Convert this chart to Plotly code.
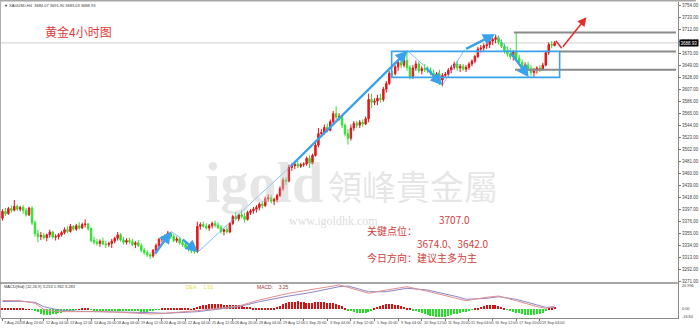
import plotly.graph_objects as go

# ---------------- data ----------------
opens = [3382,3394,3390,3399,3396,3403,3398,3401,3396,3388,3400,3374,3355,3350,3352,3348,3353,3358,3349,3350,
         3353,3357,3362,3359,3368,3363,3369,3365,3371,3372,3364,3343,3340,3338,3342,3337,3336,3338,3342,3347,
         3353,3344,3340,3343,3341,3336,3339,3334,3326,3322,3318,3316,3326,3334,3345,3347,3350,3356,3350,3343,
         3346,3339,3336,3331,3329,3325,3324,3368,3371,3368,3365,3369,3373,3370,3366,3359,3362,3358,3373,3385,
         3381,3388,3385,3380,3392,3395,3398,3401,3407,3404,3416,3418,3412,3415,3422,3434,3449,3447,3471,3474,
         3477,3473,3476,3477,3487,3478,3492,3510,3530,3532,3541,3536,3551,3565,3559,3560,3545,3530,3522,3540,
         3548,3545,3550,3547,3556,3590,3585,3587,3592,3590,3608,3618,3636,3635,3647,3655,3650,3658,3646,3630,
         3645,3652,3640,3644,3642,3640,3636,3630,3634,3624,3632,3634,3641,3646,3652,3645,3648,3643,3646,3652,
         3657,3665,3678,3680,3684,3686,3692,3695,3698,3690,3683,3675,3670,3665,3673,3662,3655,3645,3650,3644,
         3637,3641,3645,3643,3650,3672,3686,3684]
highs = [3398,3400,3402,3404,3414,3406,3404,3405,3400,3402,3403,3378,3362,3358,3356,3355,3362,3360,3354,3356,
         3360,3366,3368,3372,3370,3372,3375,3374,3380,3374,3366,3350,3346,3345,3348,3342,3341,3346,3350,3358,
         3356,3349,3347,3348,3346,3342,3344,3338,3330,3326,3322,3328,3338,3348,3351,3354,3360,3358,3354,3350,
         3349,3344,3340,3336,3334,3330,3376,3375,3376,3373,3372,3376,3378,3375,3370,3364,3368,3375,3388,3393,
         3390,3396,3392,3395,3398,3402,3405,3410,3412,3420,3424,3423,3418,3425,3438,3453,3454,3476,3478,3481,
         3483,3479,3480,3490,3492,3495,3515,3540,3538,3546,3548,3555,3570,3578,3566,3563,3548,3538,3546,3552,
         3552,3554,3555,3560,3600,3600,3592,3598,3600,3612,3622,3640,3640,3650,3659,3662,3662,3674,3650,3650,
         3658,3656,3648,3652,3648,3646,3642,3638,3642,3636,3638,3645,3650,3656,3658,3652,3652,3650,3655,3660,
         3668,3682,3685,3688,3690,3695,3698,3703,3702,3695,3688,3682,3680,3676,3707,3668,3660,3655,3656,3650,
         3645,3648,3650,3654,3675,3690,3692,3692]
lows = [3378,3386,3388,3392,3394,3395,3394,3390,3385,3386,3370,3350,3340,3344,3345,3342,3348,3346,3343,3345,
        3350,3354,3356,3357,3360,3360,3362,3363,3366,3360,3340,3336,3334,3332,3335,3330,3332,3330,3338,3343,
        3341,3336,3336,3338,3333,3330,3332,3322,3318,3314,3311,3313,3322,3331,3340,3342,3346,3346,3340,3339,
        3336,3332,3328,3324,3321,3320,3321,3362,3366,3362,3360,3364,3366,3363,3355,3352,3356,3356,3370,3378,
        3377,3382,3375,3378,3388,3390,3392,3396,3399,3402,3411,3408,3405,3410,3419,3430,3440,3445,3465,3468,
        3470,3470,3472,3474,3470,3476,3490,3506,3526,3528,3532,3534,3545,3555,3553,3540,3525,3511,3518,3535,
        3540,3540,3542,3545,3550,3575,3580,3580,3584,3586,3602,3615,3628,3632,3640,3645,3646,3640,3625,3626,
        3640,3636,3634,3638,3636,3632,3626,3620,3615,3613,3628,3630,3636,3642,3640,3638,3640,3638,3642,3648,
        3653,3662,3672,3675,3678,3680,3685,3688,3686,3680,3670,3665,3660,3658,3660,3650,3640,3638,3640,3630,
        3628,3635,3638,3640,3648,3668,3680,3683]
closes = [3394,3390,3399,3396,3403,3398,3401,3396,3388,3400,3374,3355,3350,3352,3348,3353,3358,3349,3350,3353,
          3357,3362,3359,3368,3363,3369,3365,3371,3372,3364,3343,3340,3338,3342,3337,3336,3338,3342,3347,3353,
          3344,3340,3343,3341,3336,3339,3334,3326,3322,3318,3316,3326,3334,3345,3347,3350,3356,3350,3343,3346,
          3339,3336,3331,3329,3325,3324,3368,3371,3368,3365,3369,3373,3370,3366,3359,3362,3358,3373,3385,3381,
          3388,3385,3380,3392,3395,3398,3401,3407,3404,3416,3418,3412,3415,3422,3434,3449,3447,3471,3474,3477,
          3473,3476,3477,3487,3478,3492,3510,3530,3532,3541,3536,3551,3565,3559,3560,3545,3530,3522,3540,3548,
          3545,3550,3547,3556,3590,3585,3587,3592,3590,3608,3618,3636,3635,3647,3655,3650,3658,3646,3630,3645,
          3652,3640,3644,3642,3640,3636,3630,3634,3624,3632,3634,3641,3646,3652,3645,3648,3643,3646,3652,3657,
          3665,3678,3680,3684,3686,3692,3695,3698,3690,3683,3675,3670,3665,3673,3662,3655,3645,3650,3644,3637,
          3641,3645,3643,3650,3672,3686,3685,3689]

macd_hist = [0.6,0.8,0.7,0.9,1.0,0.8,0.6,0.4,0.3,0.2,-0.5,-1.5,-3,-4.5,-5.5,-6,-5.8,-5,-4.5,-4,
             -3.2,-2.5,-1.8,-1.2,-0.8,-0.4,0.3,0.5,0.6,0.4,-0.3,-0.8,-1.2,-1.5,-1.8,-2,-2,-1.8,-1.5,-1.2,
             -1.3,-1.5,-1.4,-1.5,-1.6,-1.8,-2,-2.2,-2.4,-2.2,-1.8,-1.2,-0.6,-0.1,0.4,0.8,1.2,1.5,1.3,1.0,
             0.8,0.6,0.5,0.4,0.3,0.4,2.5,3.5,4.2,4.8,5.2,5.5,5.8,5.6,5.0,4.5,4.2,4.0,4.5,4.3,
             4.0,3.5,2.8,2.3,2.0,1.5,1.2,1.0,0.9,1.2,1.5,1.4,1.6,2.5,3.5,5,6,7,7.5,7.8,
             8.2,7.8,7.2,6.8,6.5,6.8,7.2,7.6,7.4,7.0,6.6,6.2,6.0,5.6,4.5,3.0,1.2,-0.8,-2,-3,
             -3.5,-3.8,-4,-3.5,-2.5,-1.0,0.8,2.2,3.5,4.5,5.2,5.6,5.0,4.6,4.0,3.4,2.5,1.5,0.5,-0.8,
             -2,-3,-4,-4.8,-5.5,-6.2,-7,-7.6,-8,-7.8,-7.2,-6.5,-5.8,-5,-4.2,-3.5,-3,-2.4,-1.5,-0.6,
             0.4,1.5,2.8,3.6,4.2,4.6,4.5,4.0,3.0,2.0,0.8,-0.5,-1.5,-2.5,-3.2,-4,-4.6,-5.2,-5.6,-5.8,
             -5.5,-5,-4.2,-3.3,-1.8,0.5,1.5,2.6]
line_idx = [0,6,11,14,18,21,26,33,40,50,55,66,80,87,97,104,114,117,124,130,137,144,154,157,164,168,174,181,184,187]
dif_vals = [8.8,8.6,6,0,-2.4,-2.4,-1.7,-2.4,-3,-4.7,-4,-1.3,3.3,9.3,16,19.3,24.3,22,16,19.3,22.6,18,10.7,8.6,12,13.3,8.6,2.6,1,3.3]
dea_vals = [7.8,8.0,7,2.6,0,-1.3,-2,-2.2,-2.5,-3.3,-4,-2.4,2.6,7.6,13.3,16.6,22.6,23.3,17.6,17.6,21,19.3,12.6,10,11,12.6,10,4.3,2,1.9]

x_label_idx = [0] + [6 + 8 * k for k in range(23)]
x_label_text = ["7 Aug 2025", "8 Aug 20:00", "12 Aug 04:00", "13 Aug 12:00", "14 Aug 20:00", "18 Aug 04:00",
                "19 Aug 12:00", "20 Aug 20:00", "22 Aug 04:00", "25 Aug 12:00", "26 Aug 20:00", "28 Aug 04:00",
                "29 Aug 12:00", "1 Sep 20:00", "3 Sep 04:00", "4 Sep 12:00", "5 Sep 20:00", "9 Sep 04:00",
                "10 Sep 12:00", "11 Sep 20:00", "15 Sep 04:00", "16 Sep 12:00", "17 Sep 20:00", "19 Sep 04:00"]
y_tick_vals = [3271 + 21 * k for k in range(24)]
y_tick_text = ["%.2f" % v for v in y_tick_vals]
macd_tick_text = ["20.996", "0.00", "-16.84"]
last_price = 3688.93
key_levels = [3707.0, 3674.0, 3642.0]

# drawn analysis objects (bar index, price)
blue_thick = [((51.3, 3317), (57.1, 3359)), ((60.5, 3347), (66.2, 3323)), ((97, 3470), (137.2, 3675)),
              ((143, 3648), (149, 3615)), ((156.5, 3677), (166.8, 3704)), ((171.8, 3674), (178.3, 3629))]
blue_thin = [((57.1, 3359), (60.5, 3347)), ((66.2, 3323), (97, 3470)), ((137.2, 3675), (143, 3648)),
             ((149, 3615), (156.5, 3677)), ((166.8, 3704), (171.8, 3674))]
box = (131.8, 188.7, 3628.5, 3674)
level_start = [173.2, 188.7, 173.6]
red_seg = ((187.4, 3692.8), (189.4, 3679.5))
red_arrow = ((189.4, 3679.5), (197.8, 3734))

# ---------------- geometry helpers ----------------
W, H = 700, 328
ML, MR, MT, MB = 1, 18, 2, 10
PW, PH = W - ML - MR, H - MT - MB
def px(x):
    return (x - ML) / PW
def py(y):
    return (H - MB - y) / PH
SPLIT = py(283)
XR = [(1 - 2.5) / 2.97, (682 - 2.5) / 2.97]
YR = [3754 - (283 - 5.7) * 1.75, 3754 + (5.7 - 2) * 1.75]
MR_RANGE = [-(318 - 309.3), 309.3 - 283]

idx = list(range(len(closes)))
fig = go.Figure()
fig.add_trace(go.Candlestick(
    x=idx, open=opens, high=highs, low=lows, close=closes, whiskerwidth=0,
    increasing=dict(line=dict(color="#e3161b", width=1), fillcolor="#e3161b"),
    decreasing=dict(line=dict(color="#30e030", width=1), fillcolor="#30e030"),
    xaxis="x", yaxis="y", showlegend=False, hoverinfo="skip"))
fig.add_trace(go.Bar(x=idx, y=macd_hist, width=0.42,
                     marker=dict(color=["#d41414" if v > 0 else "#22e022" for v in macd_hist], line=dict(width=0)),
                     xaxis="x", yaxis="y2", showlegend=False))
fig.add_trace(go.Scatter(x=line_idx, y=dea_vals, mode="lines", line=dict(color="#8c86c8", width=1),
                         xaxis="x", yaxis="y2", showlegend=False))
fig.add_trace(go.Scatter(x=line_idx, y=dif_vals, mode="lines", line=dict(color="#e09090", width=1),
                         xaxis="x", yaxis="y2", showlegend=False))

shapes = []
ann = []
shapes.append(dict(type="line", xref="x", yref="y", x0=XR[0], x1=XR[1], y0=last_price, y1=last_price,
                   line=dict(color="#cfcfcf", width=1), layer="below"))
for lv, xs in zip(key_levels, level_start):
    shapes.append(dict(type="line", xref="x", yref="y", x0=xs, x1=(680 - 2.5) / 2.97, y0=lv, y1=lv,
                       line=dict(color="#8a8a8a", width=2)))
shapes.append(dict(type="rect", xref="x", yref="y", x0=box[0], x1=box[1], y0=box[2], y1=box[3],
                   line=dict(color="#3aa2ec", width=1.6)))
for (a, b) in blue_thin:
    shapes.append(dict(type="line", xref="x", yref="y", x0=a[0], y0=a[1], x1=b[0], y1=b[1],
                       line=dict(color="#5ab4f0", width=0.8)))
for (a, b) in blue_thick:
    ann.append(dict(x=b[0], y=b[1], ax=a[0], ay=a[1], xref="x", yref="y", axref="x", ayref="y",
                    text="", showarrow=True, arrowhead=2, arrowsize=1, arrowwidth=2.4, arrowcolor="#3aa2ec", standoff=0))
shapes.append(dict(type="line", xref="x", yref="y", x0=red_seg[0][0], y0=red_seg[0][1], x1=red_seg[1][0],
                   y1=red_seg[1][1], line=dict(color="#e82a2a", width=1.5)))
ann.append(dict(x=red_arrow[1][0], y=red_arrow[1][1], ax=red_arrow[0][0], ay=red_arrow[0][1], xref="x", yref="y",
                axref="x", ayref="y", text="", showarrow=True, arrowhead=2, arrowsize=1.2, arrowwidth=1.5,
                arrowcolor="#e82a2a", standoff=0))

# frame
shapes.append(dict(type="rect", xref="paper", yref="paper", x0=px(0), x1=px(700), y0=py(0), y1=py(1.6),
                   fillcolor="#a6a6a6", line=dict(width=0)))
shapes.append(dict(type="line", xref="paper", yref="paper", x0=px(0.5), x1=px(0.5), y0=py(318), y1=py(0),
                   line=dict(color="#b0b0b0", width=1)))
shapes.append(dict(type="line", xref="paper", yref="paper", x0=px(0), x1=px(682), y0=SPLIT, y1=SPLIT,
                   line=dict(color="#8a8a8a", width=1.5)))

small = dict(size=3.8, color="#444", family="Liberation Sans Narrow, Liberation Sans")
for i, t in zip(x_label_idx, x_label_text):
    ann.append(dict(x=i, y=py(322.5), xref="x", yref="paper", text=t, showarrow=False, xanchor="left",
                    yanchor="middle", xshift=0 if i == 0 else 0.5, font=small))
for t, yy in zip(macd_tick_text, [286, 309.3, 316.8]):
    ann.append(dict(x=px(684), y=py(yy), xref="paper", yref="paper", text=t, showarrow=False, xanchor="left",
                    yanchor="middle", font=small))
ann.append(dict(x=px(683), y=last_price, xref="paper", yref="y", text="%.2f" % last_price, showarrow=False,
                xanchor="left", yanchor="middle", bgcolor="#000", borderpad=0.5,
                font=dict(size=4.5, color="#fff", family="Liberation Sans")))
ann.append(dict(x=px(2), y=py(5), xref="paper", yref="paper", showarrow=False, xanchor="left", yanchor="middle",
                text="▼ XAUUSD,H4  3684.07 3691.90 3683.03 3688.93",
                font=dict(size=4, color="#333", family="Liberation Sans")))
ann.append(dict(x=px(43), y=py(32), xref="paper", yref="paper", showarrow=False, xanchor="left", yanchor="middle",
                text="黄金4小时图", font=dict(size=12, color="#e03a3a", family="Noto Sans CJK SC")))
ann.append(dict(x=px(2), y=py(286.5), xref="paper", yref="paper", showarrow=False, xanchor="left", yanchor="middle",
                text="MACD(Std) (12,26,9) 3.253 1.932 3.283",
                font=dict(size=4, color="#333", family="Liberation Sans")))
ann.append(dict(x=px(185), y=py(286.5), xref="paper", yref="paper", showarrow=False, xanchor="left", yanchor="middle",
                text="DEA:    1.93", font=dict(size=5, color="#e6e040", family="Liberation Sans")))
ann.append(dict(x=px(257), y=py(286.5), xref="paper", yref="paper", showarrow=False, xanchor="left", yanchor="middle",
                text="MACD:    3.25", font=dict(size=5, color="#a03434", family="Liberation Sans")))
# watermark
ann.append(dict(x=px(266), y=py(183), xref="paper", yref="paper", showarrow=False, xanchor="center",
                yanchor="middle", text="<b>igold</b>",
                font=dict(size=56, color="rgba(200,200,200,0.45)", family="Liberation Serif")))
ann.append(dict(x=px(415), y=py(185), xref="paper", yref="paper", showarrow=False, xanchor="center",
                yanchor="middle", text="領峰貴金屬",
                font=dict(size=34, color="rgba(200,200,200,0.45)", family="Noto Sans CJK TC")))
ann.append(dict(x=px(335), y=py(221), xref="paper", yref="paper", showarrow=False, xanchor="center",
                yanchor="middle", text="www.igoldhk.com",
                font=dict(size=12, color="rgba(190,190,190,0.55)", family="Liberation Serif")))
red_font = dict(size=10, color="#d2403c", family="Noto Sans CJK SC")
ann.append(dict(x=px(440), y=py(219), xref="paper", yref="paper", showarrow=False, xanchor="left",
                yanchor="middle", text="%.1f" % key_levels[0], font=red_font))
ann.append(dict(x=px(367), y=py(230), xref="paper", yref="paper", showarrow=False, xanchor="left",
                yanchor="middle", text="关键点位：", font=red_font))
ann.append(dict(x=px(417), y=py(243), xref="paper", yref="paper", showarrow=False, xanchor="left",
                yanchor="middle", text="%.1f、%.1f" % (key_levels[1], key_levels[2]), font=red_font))
ann.append(dict(x=px(367), y=py(257), xref="paper", yref="paper", showarrow=False, xanchor="left",
                yanchor="middle", text="今日方向：建议主多为主", font=red_font))

fig.update_layout(
    width=W, height=H, margin=dict(l=ML, r=MR, t=MT, b=MB, pad=0),
    paper_bgcolor="#ffffff", plot_bgcolor="#ffffff", bargap=0,
    shapes=shapes, annotations=ann, showlegend=False,
    xaxis=dict(domain=[0, 1], range=XR, anchor="y2", showgrid=False, zeroline=False, showticklabels=False,
               ticks="outside", ticklen=2, tickcolor="#777", tickvals=x_label_idx, showline=True,
               linecolor="#8a8a8a", linewidth=1, rangeslider=dict(visible=False), fixedrange=True),
    yaxis=dict(domain=[SPLIT, 1], range=YR, side="right", anchor="x", showgrid=False, zeroline=False,
               tickvals=y_tick_vals, ticktext=y_tick_text, ticks="outside", ticklen=2, tickcolor="#777",
               tickfont=dict(size=4.5, color="#444", family="Liberation Sans"), showline=True,
               linecolor="#8a8a8a", linewidth=1),
    yaxis2=dict(domain=[0, SPLIT], range=MR_RANGE, side="right", anchor="x", showgrid=False, zeroline=False,
                showticklabels=False, showline=True, linecolor="#8a8a8a", linewidth=1),
)
fig.write_html("out.html")
